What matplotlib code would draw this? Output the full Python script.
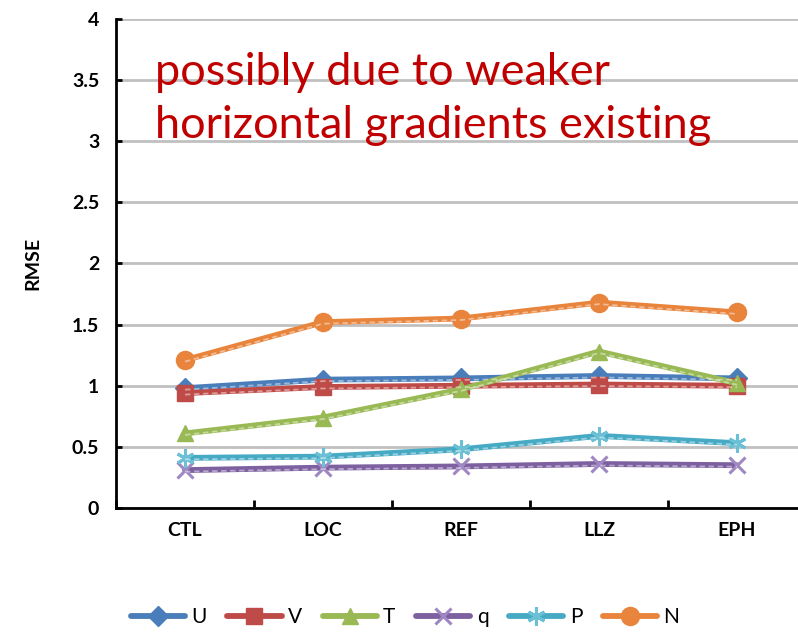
import numpy as np
import matplotlib
matplotlib.use("Agg")
from matplotlib import pyplot as plt
from matplotlib import transforms

plt.rcParams['font.family'] = ['Lato', 'DejaVu Sans']

# data
categories = ['CTL', 'LOC', 'REF', 'LLZ', 'EPH']
U = [0.98, 1.05, 1.06, 1.08, 1.06]
V = [0.94, 0.99, 1.00, 1.01, 1.00]
T = [0.61, 0.74, 0.97, 1.28, 1.02]
q = [0.31, 0.33, 0.34, 0.36, 0.35]
P = [0.41, 0.42, 0.48, 0.59, 0.53]
N = [1.21, 1.52, 1.55, 1.68, 1.60]
yticks = [0, 0.5, 1, 1.5, 2, 2.5, 3, 3.5, 4]
note = "possibly due to weaker\nhorizontal gradients existing"

series = [
    ('U', U, '#4A7EBB', '#4A7EBB', 'D', 10),
    ('V', V, '#BE4B48', '#BE4B48', 's', 12),
    ('T', T, '#98B954', '#98B954', '^', 12),
    ('q', q, '#7D60A0', '#9E87C2', 'x', 12),
    ('P', P, '#46AAC5', '#6CC0D6', (6, 2, 0), 13),
    ('N', N, '#E8843C', '#E8843C', 'o', 13),
]

fig = plt.figure(figsize=(7.98, 6.35), dpi=100)
ax = fig.add_axes([116 / 798, 127 / 635, 690 / 798, 489 / 635])

x = np.arange(len(categories))
shift = transforms.offset_copy(ax.transData, fig=fig, x=0, y=-1.5, units='dots')
for name, vals, lc, mc, mk, ms in series:
    ax.plot(x, vals, color=lc, lw=4.2, marker=mk, ms=ms, mfc=mc, mec=mc,
            mew=2.2 if mk in ('x', (6, 2, 0)) else 1, label=name, zorder=3,
            solid_capstyle='round')
    # light dashed overlay that gives the doubled look of the original
    ax.plot(x, vals, color='white', lw=1.3, ls=(0, (3, 2)), alpha=0.45,
            transform=shift, zorder=4)

ax.set_xlim(-0.5, 4.5)
ax.set_ylim(0, 4)
ax.set_yticks(yticks)
ax.set_yticklabels(['0', '0.5', '1', '1.5', '2', '2.5', '3', '3.5', '4'])
ax.set_xticks(x)
ax.set_xticklabels(categories)
ax.set_xticks(np.arange(-0.5, 5, 1), minor=True)
ax.tick_params(axis='x', which='major', length=0, pad=10)
ax.tick_params(axis='x', which='minor', direction='in', length=6, width=2)
ax.tick_params(axis='y', direction='in', length=4, width=2, pad=12)
for lab in ax.get_xticklabels() + ax.get_yticklabels():
    lab.set_fontsize(14)
    lab.set_fontweight('bold')

ax.yaxis.grid(True, color='#C0C0C0', lw=2)
ax.set_axisbelow(True)
for s in ['top', 'right']:
    ax.spines[s].set_visible(False)
for s in ['left', 'bottom']:
    ax.spines[s].set_linewidth(2)
    ax.spines[s].set_color('black')

ax.set_ylabel('RMSE', fontsize=14, fontweight='bold', labelpad=22)

fig.text(155 / 798, 1 - 52 / 635, note, color='#C00000', fontsize=32.5,
         ha='left', va='top', linespacing=1.36)

fig.legend(loc='center', bbox_to_anchor=(405 / 798, 1 - 617 / 635), ncol=6,
           frameon=False, fontsize=15, handlelength=2.6, columnspacing=1.0,
           handletextpad=0.3)

fig.savefig('out.png', dpi=100)
